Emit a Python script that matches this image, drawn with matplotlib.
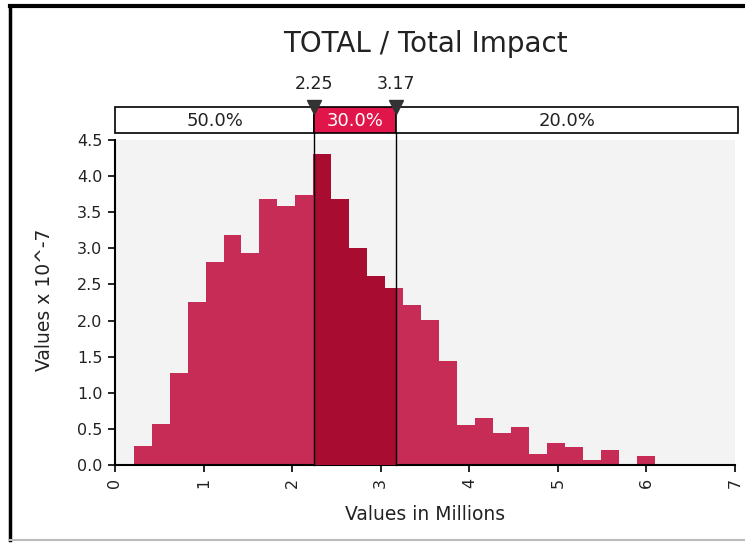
import matplotlib
matplotlib.use("Agg")
import matplotlib.pyplot as plt
from matplotlib.patches import Rectangle
import numpy as np

plt.rcParams['font.family'] = ['DejaVu Sans']

# ---- data ----
title = "TOTAL / Total Impact"
x_label = "Values in Millions"
y_label = "Values x 10^-7"
bin_start = 0.21
bin_width = 0.203
heights = [0.26, 0.57, 1.28, 2.26, 2.81, 3.19, 2.94, 3.68, 3.58, 3.74,
           4.31, 3.68, 3.00, 2.62, 2.45, 2.21, 2.01, 1.44, 0.56, 0.65,
           0.45, 0.52, 0.15, 0.31, 0.25, 0.07, 0.21, 0.00, 0.12]
lower_cut = 2.25
upper_cut = 3.17
segment_labels = ["50.0%", "30.0%", "20.0%"]
x_ticks = [0, 1, 2, 3, 4, 5, 6, 7]
y_ticks = [0.0, 0.5, 1.0, 1.5, 2.0, 2.5, 3.0, 3.5, 4.0, 4.5]

light = '#c62c55'
dark = '#a80c30'
box_red = '#e0164a'

W, H = 745, 543
fig = plt.figure(figsize=(W / 100, H / 100), dpi=100)
fig.patch.set_facecolor('white')

def fx(px):
    return px / W

def fy(py):
    return 1 - py / H

# main axes
ax_l, ax_r, ax_t, ax_b = 115, 735, 140, 465
ax = fig.add_axes([fx(ax_l), fy(ax_b), fx(ax_r - ax_l), (ax_b - ax_t) / H])
ax.set_facecolor('#f3f3f3')
ax.set_xlim(0, 7)
ax.set_ylim(0, 4.5)

lefts = [bin_start + i * bin_width for i in range(len(heights))]
ax.bar(lefts, heights, width=bin_width, align='edge', color=light,
       edgecolor='none', linewidth=0, zorder=2)
dark_bars = ax.bar(lefts, heights, width=bin_width, align='edge', color=dark,
                   edgecolor='none', linewidth=0, zorder=3)
clip_rect = Rectangle((lower_cut, 0), upper_cut - lower_cut, 10,
                      transform=ax.transData, facecolor='none')
for b in dark_bars:
    b.set_clip_path(clip_rect)

for spine in ['top', 'right']:
    ax.spines[spine].set_visible(False)
for spine in ['left', 'bottom']:
    ax.spines[spine].set_linewidth(1.5)
    ax.spines[spine].set_color('black')

ax.set_xticks(x_ticks)
ax.set_xticklabels([str(t) for t in x_ticks], rotation=90, fontsize=11.5,
                   color='#222222')
ax.set_yticks(y_ticks)
ax.set_yticklabels([f"{t:.1f}" for t in y_ticks], fontsize=11.5,
                   color='#222222')
ax.tick_params(axis='both', direction='out', length=5, width=1.2, colors='black')
ax.tick_params(axis='x', pad=4, labelcolor='#222222')
ax.tick_params(axis='y', pad=4, labelcolor='#222222')
ax.set_xlabel(x_label, fontsize=13.5, va='center', color='#222222')
ax.xaxis.set_label_coords((425 - ax_l) / (ax_r - ax_l), -(514 - ax_b) / (ax_b - ax_t))
ax.set_ylabel(y_label, fontsize=13.5, va='center', ha='center', color='#222222')
ax.yaxis.set_label_coords(-(ax_l - 45) / (ax_r - ax_l), (ax_b - 300) / (ax_b - ax_t))

# percentile box axes
box_t, box_b = 107, 133
bx = fig.add_axes([fx(ax_l), fy(box_b), fx(ax_r - ax_l), (box_b - box_t) / H])
bx.set_xlim(0, 7)
bx.set_ylim(0, 1)
bx.axis('off')
box_right = 7.03
segs = [(0, lower_cut, 'white', '#222222'),
        (lower_cut, upper_cut, box_red, 'white'),
        (upper_cut, box_right, 'white', '#222222')]
for (a, b_, fc, tc), lab in zip(segs, segment_labels):
    bx.add_patch(Rectangle((a, 0), b_ - a, 1, facecolor=fc, edgecolor='black',
                           linewidth=1.2, clip_on=False, zorder=2))
    bx.text((a + b_) / 2, 0.45, lab, ha='center', va='center', fontsize=13,
            color=tc, zorder=3)

# vertical cut lines through plot up to box
for c in (lower_cut, upper_cut):
    ax.plot([c, c], [0, 4.5 + (ax_t - box_b) / (ax_b - ax_t) * 4.5], color='black',
            linewidth=1.0, clip_on=False, zorder=4)
    bx.plot([c], [1.0], marker='v', markersize=10, color='#333333',
            clip_on=False, zorder=5)
    bx.text(c, 1.55, f"{c:.2f}", ha='center', va='bottom', fontsize=12.5,
            color='#222222')

fig.text(fx(425), fy(44), title, ha='center', va='center', fontsize=20,
         color='#222222')

# outer frame
fig.add_artist(plt.Line2D([fx(10), fx(10)], [fy(6), fy(540)], color='black',
                          linewidth=2.5, transform=fig.transFigure))
fig.add_artist(plt.Line2D([fx(10), 1], [fy(6), fy(6)], color='black',
                          linewidth=3, transform=fig.transFigure))
fig.add_artist(plt.Line2D([fx(10), 1], [fy(540), fy(540)], color='#bbbbbb',
                          linewidth=1.5, transform=fig.transFigure))

fig.savefig('out.png', dpi=100, facecolor='white')
